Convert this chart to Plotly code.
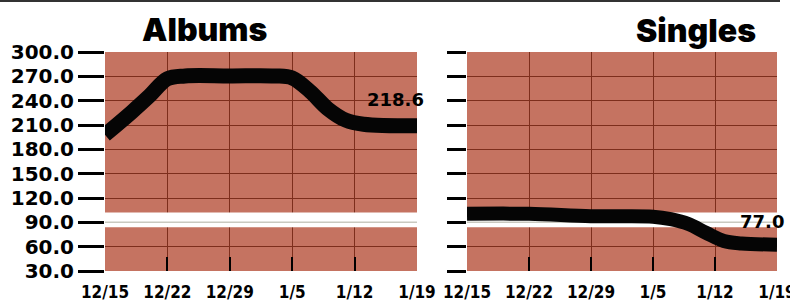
import plotly.graph_objects as go

# ---- data ----
album_dates = ["1985-12-15", "1985-12-18", "1985-12-20", "1985-12-22", "1985-12-24",
               "1985-12-29", "1986-01-03", "1986-01-05", "1986-01-07", "1986-01-09",
               "1986-01-11", "1986-01-13", "1986-01-19"]
album_values = [198, 226, 246, 267, 270.5, 270.5, 270.5, 268, 251.5, 230, 216, 211, 209]

single_dates = ["1985-12-15", "1985-12-22", "1985-12-29", "1986-01-05", "1986-01-07",
                "1986-01-09", "1986-01-11", "1986-01-13", "1986-01-15", "1986-01-19"]
single_values = [100.5, 100.5, 97.5, 97, 94, 88, 77, 67, 64, 62.5]

week_ticks = ["1985-12-15", "1985-12-22", "1985-12-29", "1986-01-05", "1986-01-12", "1986-01-19"]
week_labels = ["12/15", "12/22", "12/29", "1/5", "1/12", "1/19"]
y_ticks = [30, 60, 90, 120, 150, 180, 210, 240, 270, 300]
y_labels = ["30.0", "60.0", "90.0", "120.0", "150.0", "180.0", "210.0", "240.0", "270.0", "300.0"]

album_label = "218.6"
single_label = "77.0"
band_low, band_high, band_line = 84, 102, 90

BG = "#c57361"
GRID = "#7d2e1c"
LABEL_FONT = "DejaVu Sans, Verdana, sans-serif"
TICK_FONT = "Liberation Sans Narrow, DejaVu Sans Condensed, Arial Narrow, Liberation Sans, sans-serif"

fig = go.Figure()

# white reference band (drawn above the grid, below the data lines)
for xa, ya in (("x", "y"), ("x2", "y2")):
    span = [week_ticks[0], week_ticks[-1]]
    fig.add_trace(go.Scatter(x=span, y=[band_low, band_low], mode="lines",
                             line=dict(width=0, color="white"), xaxis=xa, yaxis=ya,
                             showlegend=False, hoverinfo="skip"))
    fig.add_trace(go.Scatter(x=span, y=[band_high, band_high], mode="lines",
                             line=dict(width=0, color="white"), fill="tonexty",
                             fillcolor="white", xaxis=xa, yaxis=ya,
                             showlegend=False, hoverinfo="skip"))
    fig.add_trace(go.Scatter(x=span, y=[band_line, band_line], mode="lines",
                             line=dict(width=1.5, color="#c9c9c0"), xaxis=xa, yaxis=ya,
                             showlegend=False, hoverinfo="skip"))

fig.add_trace(go.Scatter(x=album_dates, y=album_values, mode="lines",
                         line=dict(color="#050505", width=15, shape="spline", smoothing=1),
                         xaxis="x", yaxis="y", showlegend=False, hoverinfo="skip"))
fig.add_trace(go.Scatter(x=single_dates, y=single_values, mode="lines",
                         line=dict(color="#050505", width=14, shape="spline", smoothing=1),
                         xaxis="x2", yaxis="y2", showlegend=False, hoverinfo="skip"))

xcommon = dict(type="date", range=[week_ticks[0], week_ticks[-1]],
               tickvals=week_ticks, ticktext=week_labels,
               showgrid=True, gridcolor=GRID, gridwidth=1.2,
               ticks="inside", ticklen=14, tickwidth=2, tickcolor="black",
               ticklabelstandoff=9, ticklabeloverflow="allow",
               tickfont=dict(family=TICK_FONT, size=17, color="black", weight="bold"),
               showline=False, zeroline=False, fixedrange=True)
ycommon = dict(range=[30, 300], tickvals=y_ticks, ticktext=y_labels,
               showgrid=True, gridcolor=GRID, gridwidth=1.2,
               ticks="outside", tickwidth=2.5, tickcolor="black",
               showline=False, zeroline=False, fixedrange=True)

ydom = [1 - 271 / 302, 1 - 52 / 302]
fig.update_layout(
    width=790, height=302,
    margin=dict(l=0, r=0, t=0, b=0, autoexpand=False),
    paper_bgcolor="white", plot_bgcolor=BG,
    xaxis=dict(domain=[105 / 790, 417 / 790], anchor="y", **xcommon),
    xaxis2=dict(domain=[467 / 790, 777 / 790], anchor="y2", **xcommon),
    yaxis=dict(domain=ydom, anchor="x", ticklen=26, showticklabels=True,
               tickfont=dict(family=LABEL_FONT, size=20, color="black", weight="bold"),
               **ycommon),
    yaxis2=dict(domain=ydom, anchor="x2", ticklen=19, showticklabels=False, **ycommon),
)

fig.update_layout(shapes=[
    dict(type="line", xref="paper", yref="paper", x0=0, x1=780 / 790,
         y0=0.997, y1=0.997, line=dict(color="#333333", width=2)),
])

title_font = dict(family="Inter, Liberation Sans, Arial, sans-serif", size=32,
                  color="black", weight=900)
ann = [
    dict(text="Albums", xref="paper", yref="paper", x=204 / 790, y=1 - 30 / 302,
         xanchor="center", yanchor="middle", showarrow=False, font=title_font),
    dict(text="Singles", xref="paper", yref="paper", x=696 / 790, y=1 - 31 / 302,
         xanchor="center", yanchor="middle", showarrow=False, font=title_font),
    dict(text=album_label, xref="x", yref="y", x=week_ticks[-1], y=241,
         xanchor="right", yanchor="middle", xshift=9, showarrow=False,
         font=dict(family=LABEL_FONT, size=18, color="black", weight="bold")),
    dict(text=single_label, xref="x2", yref="y2", x=week_ticks[-1], y=91.5,
         xanchor="right", yanchor="middle", xshift=9, showarrow=False,
         font=dict(family=LABEL_FONT, size=18, color="black", weight="bold")),
]
fig.update_layout(annotations=ann)

fig.write_html("out.html", config={"displayModeBar": False},
               post_script="document.body.style.margin='0px';document.body.style.overflow='hidden';")
